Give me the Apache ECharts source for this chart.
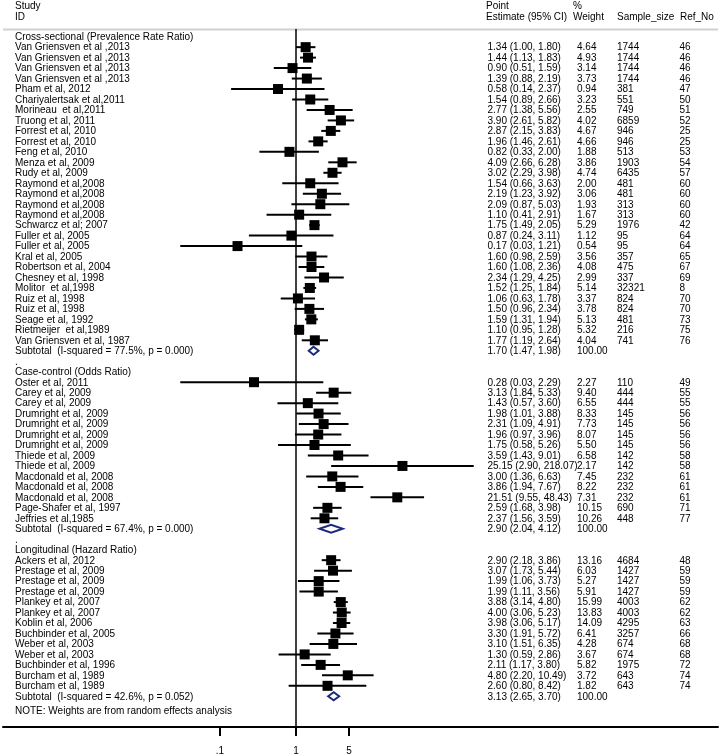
<!DOCTYPE html>
<html><head><meta charset="utf-8">
<script src="https://cdn.jsdelivr.net/npm/echarts@6/dist/echarts.min.js"></script>
<style>html,body{margin:0;padding:0;background:#fff}#c{width:719px;height:756px}</style>
</head><body><div id="c"></div>
<script>
// ---------------- data ----------------
const groupTitles = ['Cross-sectional (Prevalence Rate Ratio)', 'Case-control (Odds Ratio)', 'Longitudinal (Hazard Ratio)'];

const csNames = ['Van Griensven et al ,2013','Van Griensven et al ,2013','Van Griensven et al ,2013','Van Griensven et al ,2013','Pham et al, 2012','Chariyalertsak et al,2011','Morineau  et al,2011','Truong et al, 2011','Forrest et al, 2010','Forrest et al, 2010','Feng et al, 2010','Menza et al, 2009','Rudy et al, 2009','Raymond et al,2008','Raymond et al,2008','Raymond et al,2008','Raymond et al,2008','Schwarcz et al; 2007','Fuller et al, 2005','Fuller et al, 2005','Kral et al, 2005','Robertson et al, 2004','Chesney et al, 1998','Molitor  et al,1998','Ruiz et al, 1998','Ruiz et al, 1998','Seage et al, 1992','Rietmeijer  et al,1989','Van Griensven et al, 1987'];
const csEst = [1.34,1.44,0.90,1.39,0.58,1.54,2.77,3.90,2.87,1.96,0.82,4.09,3.02,1.54,2.19,2.09,1.10,1.75,0.87,0.17,1.60,1.60,2.34,1.52,1.06,1.50,1.59,1.10,1.77];
const csLo = [1.00,1.13,0.51,0.88,0.14,0.89,1.38,2.61,2.15,1.46,0.33,2.66,2.29,0.66,1.23,0.87,0.41,1.49,0.24,0.03,0.98,1.08,1.29,1.25,0.63,0.96,1.31,0.95,1.19];
const csHi = [1.80,1.83,1.59,2.19,2.37,2.66,5.56,5.82,3.83,2.61,2.00,6.28,3.98,3.63,3.92,5.03,2.91,2.05,3.11,1.21,2.59,2.36,4.25,1.84,1.78,2.34,1.94,1.28,2.64];
const csWeight = [4.64,4.93,3.14,3.73,0.94,3.23,2.55,4.02,4.67,4.66,1.88,3.86,4.74,2.00,3.06,1.93,1.67,5.29,1.12,0.54,3.56,4.08,2.99,5.14,3.37,3.78,5.13,5.32,4.04];
const csSample = [1744,1744,1744,1744,381,551,749,6859,946,946,513,1903,6435,481,481,313,313,1976,95,95,357,475,337,32321,824,824,481,216,741];
const csRef = [46,46,46,46,47,50,51,52,25,25,53,54,57,60,60,60,60,42,64,64,65,67,69,8,70,70,73,75,76];

const ccNames = ['Oster et al, 2011','Carey et al, 2009','Carey et al, 2009','Drumright et al, 2009','Drumright et al, 2009','Drumright et al, 2009','Drumright et al, 2009','Thiede et al, 2009','Thiede et al, 2009','Macdonald et al, 2008','Macdonald et al, 2008','Macdonald et al, 2008','Page-Shafer et al, 1997','Jeffries et al,1985'];
const ccEst = [0.28,3.13,1.43,1.98,2.31,1.96,1.75,3.59,25.15,3.00,3.86,21.51,2.59,2.37];
const ccLo = [0.03,1.84,0.57,1.01,1.09,0.97,0.58,1.43,2.90,1.36,1.94,9.55,1.68,1.56];
const ccHi = [2.29,5.33,3.60,3.88,4.91,3.96,5.26,9.01,218.07,6.63,7.67,48.43,3.98,3.59];
const ccWeight = [2.27,9.40,6.55,8.33,7.73,8.07,5.50,6.58,2.17,7.45,8.22,7.31,10.15,10.26];
const ccSample = [110,444,444,145,145,145,145,142,142,232,232,232,690,448];
const ccRef = [49,55,55,56,56,56,56,58,58,61,61,61,71,77];

const lgNames = ['Ackers et al, 2012','Prestage et al, 2009','Prestage et al, 2009','Prestage et al, 2009','Plankey et al, 2007','Plankey et al, 2007','Koblin et al, 2006','Buchbinder et al, 2005','Weber et al, 2003','Weber et al, 2003','Buchbinder et al, 1996','Burcham et al, 1989','Burcham et al, 1989'];
const lgEst = [2.90,3.07,1.99,1.99,3.88,4.00,3.98,3.30,3.10,1.30,2.11,4.80,2.60];
const lgLo = [2.18,1.73,1.06,1.11,3.14,3.06,3.06,1.91,1.51,0.59,1.17,2.20,0.80];
const lgHi = [3.86,5.44,3.73,3.56,4.80,5.23,5.17,5.72,6.35,2.86,3.80,10.49,8.42];
const lgWeight = [13.16,6.03,5.27,5.91,15.99,13.83,14.09,6.41,4.28,3.67,5.82,3.72,1.82];
const lgSample = [4684,1427,1427,1427,4003,4003,4295,3257,674,674,1975,643,643];
const lgRef = [48,59,59,59,62,62,63,66,68,68,72,74,74];

const subEst = [1.70, 2.90, 3.13];
const subLo = [1.47, 2.04, 2.65];
const subHi = [1.98, 4.12, 3.70];
const subI2 = ['77.5', '67.4', '42.6'];
const subP = ['0.000', '0.000', '0.052'];

const tickVals = [0.1, 1, 5];
const tickLabels = ['.1', '1', '5'];
const noteText = 'NOTE: Weights are from random effects analysis';

// ---------------- build rows ----------------
const groups = [
  {names: csNames, est: csEst, lo: csLo, hi: csHi, w: csWeight, n: csSample, ref: csRef},
  {names: ccNames, est: ccEst, lo: ccLo, hi: ccHi, w: ccWeight, n: ccSample, ref: ccRef},
  {names: lgNames, est: lgEst, lo: lgLo, hi: lgHi, w: lgWeight, n: lgSample, ref: lgRef}
];
const fmtCI = (e, l, h) => e.toFixed(2) + ' (' + l.toFixed(2) + ', ' + h.toFixed(2) + ')';
const textRows = [];
const studyData = [];
const diamondData = [];
let r = 0;
groups.forEach((g, gi) => {
  textRows.push({row: r, label: groupTitles[gi]}); r++;
  g.names.forEach((nm, i) => {
    studyData.push([g.est[i], g.lo[i], g.hi[i], r]);
    textRows.push({row: r, label: nm, est: fmtCI(g.est[i], g.lo[i], g.hi[i]), w: g.w[i].toFixed(2), n: String(g.n[i]), ref: String(g.ref[i])});
    r++;
  });
  diamondData.push([subEst[gi], subLo[gi], subHi[gi], r]);
  textRows.push({row: r, label: 'Subtotal  (I-squared = ' + subI2[gi] + '%, p = ' + subP[gi] + ')', est: fmtCI(subEst[gi], subLo[gi], subHi[gi]), w: '100.00'});
  r++;
  if (gi < groups.length - 1) { textRows.push({row: r, label: '.'}); r++; }
});
textRows.push({row: r + 0.4, label: noteText});

// ---------------- layout ----------------
const FONT = '"Liberation Sans", Arial, sans-serif';
const gridL = 3, gridR = 718, gridT = 29, gridB = 729;
const oneX = 296, perDecade = 76;
const xMin = Math.pow(10, (gridL - oneX) / perDecade);
const xMax = Math.pow(10, (gridR - oneX) / perDecade);
const row0Y = 36.7, rowH = 10.5;
const yMin = (gridT - row0Y) / rowH, yMax = (gridB - row0Y) / rowH;
const colX = {label: 15, est: 487.5, w: 577, n: 617, ref: 679.5};
const textDy = 0.6;

function txt(x, y, s) {
  return {type: 'text', x: x, y: y, style: {text: s, fill: '#000', fontSize: 10, fontFamily: FONT, align: 'left', verticalAlign: 'middle'}};
}

const chart = echarts.init(document.getElementById('c'), null, {renderer: 'canvas'});
chart.setOption({
  animation: false,
  backgroundColor: '#fff',
  grid: {left: gridL, right: 719 - gridR, top: gridT, bottom: 756 - gridB, containLabel: false},
  xAxis: {
    type: 'log', logBase: 10, min: xMin, max: xMax,
    axisLine: {show: true, onZero: false, lineStyle: {color: '#000', width: 2}},
    axisTick: {show: true, customValues: tickVals, length: 9, lineStyle: {color: '#000', width: 2}},
    axisLabel: {show: true, customValues: tickVals, color: '#000', fontSize: 10, fontFamily: FONT, margin: 19,
      formatter: v => { for (let i = 0; i < tickVals.length; i++) if (Math.abs(v - tickVals[i]) < 1e-6 * tickVals[i] + 1e-9) return tickLabels[i]; return ''; }},
    splitLine: {show: false}, minorTick: {show: false}
  },
  yAxis: {type: 'value', inverse: true, min: yMin, max: yMax, show: false, splitLine: {show: false}},
  graphic: [
    {type: 'line', shape: {x1: gridL, y1: 29.5, x2: gridR, y2: 29.5}, style: {stroke: '#d0d0d0', lineWidth: 2}, z: 1},
    txt(15, 6, 'Study'), txt(15, 17, 'ID'),
    txt(486, 6, 'Point'), txt(486, 17, 'Estimate (95% CI)'),
    txt(573, 6, '%'), txt(573, 17, 'Weight'),
    txt(617, 17, 'Sample_size'), txt(680, 17, 'Ref_No')
  ],
  series: [
    {
      type: 'scatter', data: [], z: 1, silent: true,
      markLine: {symbol: 'none', silent: true, animation: false, label: {show: false},
        lineStyle: {color: '#000', width: 1.5, type: 'solid'}, data: [{xAxis: 1}]}
    },
    {
      type: 'custom', z: 3, data: studyData, encode: {x: [0, 1, 2], y: 3},
      renderItem(params, api) {
        const row = api.value(3);
        const p = api.coord([api.value(0), row]);
        const a = api.coord([api.value(1), row]);
        const b = api.coord([api.value(2), row]);
        const s = 10;
        return {type: 'group', children: [
          {type: 'line', shape: {x1: a[0], y1: a[1], x2: b[0], y2: b[1]}, style: {stroke: '#000', lineWidth: 2}},
          {type: 'rect', shape: {x: p[0] - s / 2, y: p[1] - s / 2, width: s, height: s}, style: {fill: '#000'}}
        ]};
      }
    },
    {
      type: 'custom', z: 4, data: diamondData, encode: {x: [0, 1, 2], y: 3},
      renderItem(params, api) {
        const row = api.value(3);
        const p = api.coord([api.value(0), row]);
        const a = api.coord([api.value(1), row]);
        const b = api.coord([api.value(2), row]);
        const h = 4;
        return {type: 'polygon', shape: {points: [[a[0], a[1]], [p[0], p[1] - h], [b[0], b[1]], [p[0], p[1] + h]]},
          style: {fill: '#fff', stroke: '#1c2a7e', lineWidth: 2}};
      }
    },
    {
      type: 'custom', z: 5, data: textRows.map(t => [1, t.row]), encode: {x: 0, y: 1},
      renderItem(params, api) {
        const t = textRows[params.dataIndex];
        const y = api.coord([1, api.value(1)])[1] + textDy;
        const ch = [txt(colX.label, y, t.label)];
        if (t.est) ch.push(txt(colX.est, y, t.est));
        if (t.w) ch.push(txt(colX.w, y, t.w));
        if (t.n) ch.push(txt(colX.n, y, t.n));
        if (t.ref) ch.push(txt(colX.ref, y, t.ref));
        return {type: 'group', children: ch};
      }
    }
  ]
});
</script>
</body></html>
